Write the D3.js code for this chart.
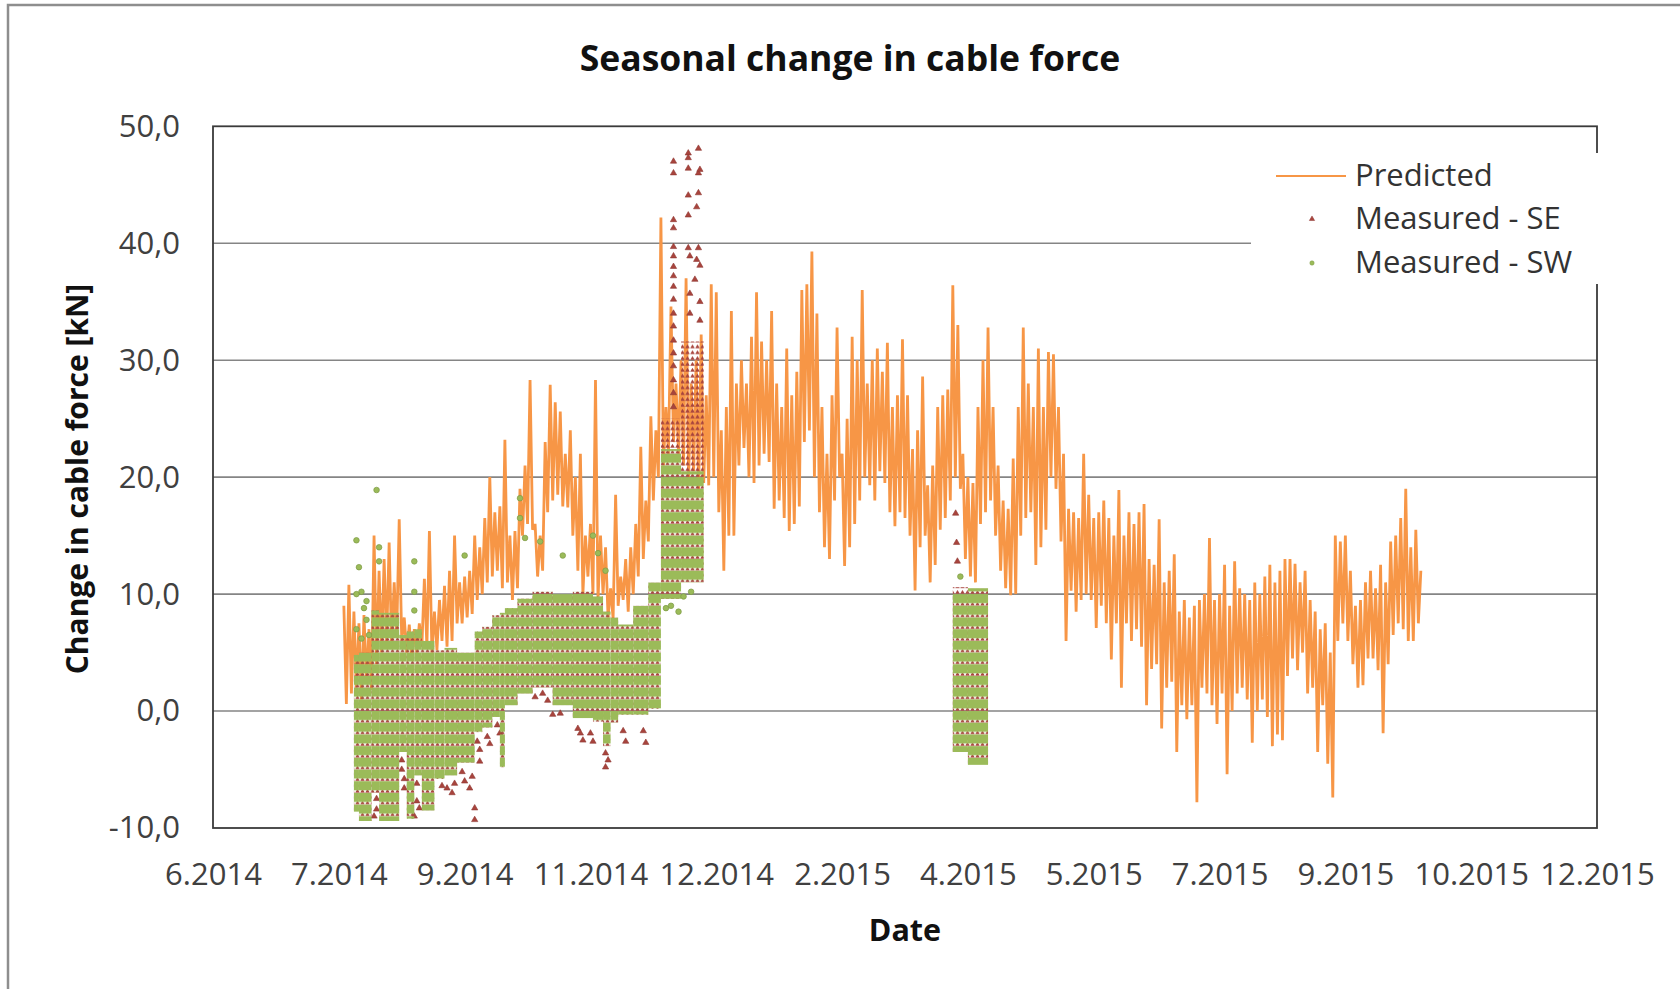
<!DOCTYPE html>
<html>
<head>
<meta charset="utf-8">
<script src="https://cdn.jsdelivr.net/npm/d3@7"></script>
<style>
  body { margin: 0; background: #ffffff; }
  svg { display: block; }
</style>
</head>
<body>
<svg id="chart" width="1680" height="989"></svg>
<script>
// ---- Axis ranges and tick labels ----
const xDomain = ["2014-06-10", "2015-12-12"];
const xTickDates = ["2014-06-10", "2014-07-30", "2014-09-18", "2014-11-07", "2014-12-27", "2015-02-15",
                    "2015-04-06", "2015-05-26", "2015-07-15", "2015-09-03", "2015-10-23", "2015-12-12"];
const yDomain = [-10, 50];
const yTicks = [-10, 0, 10, 20, 30, 40, 50];

// ---- Predicted cable force change [kN], one reading per day from predictedStart ----
const predictedStart = "2014-08-01";
const predictedValues = [
  9.0, 0.6, 10.8, 1.5, 8.5, 2.0, 7.5, 1.0, 8.2, 2.5,
  7.0, 1.8, 15.0, 4.0, 12.0, 5.0, 13.0, 6.0, 14.4, 5.5,
  11.0, 6.5, 16.4, 6.0, 8.0, 5.0, 7.4, 4.5, 7.0, 5.0,
  7.5, 5.5, 11.3, 5.5, 15.4, 5.0, 8.5, 5.2, 9.5, 6.0,
  10.7, 5.5, 12.0, 6.0, 15.0, 7.5, 11.0, 7.5, 11.5, 8.0,
  12.0, 8.3, 15.0, 9.5, 14.0, 10.0, 16.5, 11.0, 20.0, 11.5,
  17.0, 12.0, 17.5, 10.5, 23.2, 11.0, 15.0, 9.5, 15.4, 10.5,
  19.0, 15.0, 21.0, 16.0, 28.3, 15.5, 16.0, 11.5, 15.0, 12.0,
  23.0, 17.0, 27.9, 18.0, 26.4, 18.5, 25.6, 17.5, 22.0, 17.4,
  24.0, 15.0, 20.0, 12.0, 22.0, 10.0, 15.0, 11.5, 16.0, 10.0,
  28.3, 9.5, 15.0, 10.0, 14.0, 8.0, 10.5, 7.9, 18.5, 9.0,
  11.5, 9.5, 13.0, 8.5, 14.0, 10.0, 16.0, 11.5, 22.6, 13.0,
  18.0, 14.5, 25.2, 18.0, 24.0, 20.0, 42.2, 21.0, 26.0, 22.0,
  34.6, 23.0, 28.0, 22.0, 30.0, 21.0, 37.0, 20.0, 28.0, 20.5,
  30.0, 19.0, 32.2, 19.5, 27.0, 19.3, 36.5, 20.0, 35.8, 17.0,
  24.0, 12.0, 26.0, 15.0, 34.2, 15.0, 28.0, 21.0, 30.0, 22.5,
  28.0, 20.0, 32.0, 19.5, 35.8, 21.0, 31.6, 22.0, 30.0, 21.3,
  34.2, 17.3, 28.0, 18.0, 26.0, 16.5, 31.0, 15.4, 27.0, 16.0,
  29.0, 17.5, 36.0, 23.0, 36.5, 24.0, 39.3, 20.0, 34.0, 17.0,
  26.0, 14.0, 22.0, 13.0, 27.0, 18.0, 32.8, 20.0, 22.0, 12.4,
  25.0, 14.0, 32.0, 16.0, 30.0, 18.0, 36.0, 20.0, 28.0, 19.3,
  30.0, 18.0, 31.0, 20.5, 29.0, 19.5, 31.5, 17.0, 26.0, 15.8,
  27.0, 17.0, 31.8, 16.5, 27.0, 15.0, 22.4, 10.3, 24.0, 14.0,
  28.6, 15.0, 19.3, 11.0, 21.0, 12.5, 26.0, 15.5, 27.0, 16.5,
  27.5, 18.0, 36.4, 20.0, 33.0, 19.0, 22.0, 13.0, 20.0, 11.5,
  19.5, 11.0, 26.0, 16.0, 30.0, 17.0, 32.8, 18.0, 26.0, 15.0,
  21.0, 12.0, 18.0, 10.5, 17.3, 9.9, 21.6, 10.0, 26.0, 15.0,
  32.8, 16.5, 28.0, 17.0, 26.0, 12.5, 31.0, 14.0, 26.0, 15.5,
  30.7, 20.0, 30.5, 19.0, 26.0, 14.5, 22.0, 6.0, 17.3, 10.3,
  17.0, 8.5, 16.5, 9.5, 22.0, 10.0, 18.5, 9.5, 16.5, 7.1,
  17.0, 9.0, 18.0, 7.5, 16.5, 4.4, 15.0, 7.5, 18.9, 2.0,
  15.0, 7.5, 17.0, 6.0, 16.0, 7.0, 17.0, 5.5, 17.7, 0.5,
  13.0, 3.6, 12.5, 4.0, 16.4, -1.5, 11.0, 2.0, 12.0, 2.5,
  13.4, -3.5, 8.5, 0.5, 9.5, -0.7, 8.0, 0.5, 9.0, -7.8,
  9.5, 2.0, 10.0, 1.5, 14.8, 0.5, 9.5, -1.1, 10.0, 1.5,
  12.5, -5.4, 9.0, 0.0, 12.8, 1.5, 10.5, 2.0, 10.0, 1.0,
  9.5, -2.7, 11.0, 0.0, 10.0, 1.0, 11.5, -0.5, 12.5, -3.0,
  11.0, -2.0, 12.0, -2.5, 13.0, 3.0, 13.0, 4.5, 12.6, 3.5,
  11.0, 5.0, 12.0, 1.5, 9.5, 2.0, 8.5, -3.5, 7.0, 0.5,
  7.5, -4.5, 5.0, -7.4, 15.0, 6.0, 14.5, 7.5, 15.0, 6.0,
  12.0, 4.0, 9.0, 2.0, 9.5, 2.2, 11.0, 4.5, 12.0, 4.5,
  10.5, 3.5, 12.5, -1.9, 11.0, 4.0, 14.5, 6.5, 15.0, 7.5,
  16.5, 7.0, 19.0, 6.0, 14.0, 6.0, 15.5, 7.5, 12.0
];

// ---- Measured SE: ranges of readings [from, to, low, high] and isolated readings [date, value] ----
const seRanges = [
  ["2014-08-05", "2014-08-07", -8.6, 4.8], ["2014-08-07", "2014-08-12", -9.4, 5.0],
  ["2014-08-12", "2014-08-15", -7.0, 8.6], ["2014-08-15", "2014-08-23", -9.4, 8.4],
  ["2014-08-23", "2014-08-26", -3.5, 6.5], ["2014-08-26", "2014-08-29", -9.2, 6.8],
  ["2014-08-29", "2014-09-01", -5.5, 7.0], ["2014-09-01", "2014-09-06", -8.5, 6.0],
  ["2014-09-06", "2014-09-10", -5.8, 5.2], ["2014-09-10", "2014-09-15", -5.5, 5.4],
  ["2014-09-15", "2014-09-22", -4.4, 5.0], ["2014-09-22", "2014-09-25", -1.8, 6.8],
  ["2014-09-25", "2014-09-29", -1.4, 7.2], ["2014-09-29", "2014-10-02", -0.5, 8.2],
  ["2014-10-02", "2014-10-04", -4.8, 8.4], ["2014-10-04", "2014-10-09", 0.5, 8.8],
  ["2014-10-09", "2014-10-15", 1.5, 9.6], ["2014-10-15", "2014-10-23", 2.0, 10.2],
  ["2014-10-23", "2014-10-31", 0.5, 10.0], ["2014-10-31", "2014-11-08", -0.6, 10.2],
  ["2014-11-08", "2014-11-12", -0.9, 9.8], ["2014-11-12", "2014-11-15", -3.0, 8.5],
  ["2014-11-15", "2014-11-18", -1.0, 8.0], ["2014-11-18", "2014-11-24", -0.3, 7.4],
  ["2014-11-24", "2014-11-30", -0.3, 9.0], ["2014-11-30", "2014-12-05", 0.2, 11.0],
  ["2014-12-05", "2014-12-13", 9.6, 25.0], ["2014-12-13", "2014-12-22", 11.0, 31.6],
  ["2015-03-31", "2015-04-06", -3.5, 10.6], ["2015-04-06", "2015-04-14", -4.6, 10.5]
];
const sePoints = [
  ["2014-08-14", -7.5], ["2014-08-14", -8.4], ["2014-08-13", -9.0],
  ["2014-08-24", -4.2], ["2014-08-24", -5.0], ["2014-08-25", -5.8], ["2014-08-25", -6.6],
  ["2014-08-30", -6.2], ["2014-08-30", -7.7], ["2014-08-31", -8.3], ["2014-08-29", -9.0],
  ["2014-09-09", -6.4], ["2014-09-11", -6.6], ["2014-09-13", -7.0], ["2014-09-14", -6.2],
  ["2014-09-17", -5.2], ["2014-09-18", -6.0], ["2014-09-20", -6.6], ["2014-09-21", -5.6],
  ["2014-09-22", -8.3], ["2014-09-22", -9.3], ["2014-09-23", -2.6], ["2014-09-24", -3.3],
  ["2014-09-24", -4.3], ["2014-09-27", -2.2], ["2014-09-28", -2.8], ["2014-10-01", -1.2],
  ["2014-10-02", -1.9], ["2014-10-16", 1.2], ["2014-10-19", 1.5], ["2014-10-21", 0.9],
  ["2014-10-23", -0.3], ["2014-10-26", -0.2], ["2014-11-02", -1.5], ["2014-11-03", -1.9],
  ["2014-11-04", -2.5], ["2014-11-07", -1.9], ["2014-11-08", -2.6], ["2014-11-13", -3.6],
  ["2014-11-13", -4.8], ["2014-11-14", -4.2], ["2014-11-20", -1.7], ["2014-11-21", -2.6],
  ["2014-11-28", -1.7], ["2014-11-29", -2.7],
  ["2014-12-10", 47.0], ["2014-12-10", 46.0], ["2014-12-10", 42.0], ["2014-12-10", 41.3],
  ["2014-12-10", 39.7], ["2014-12-10", 38.9], ["2014-12-10", 38.0], ["2014-12-10", 37.2],
  ["2014-12-10", 36.3], ["2014-12-10", 35.2], ["2014-12-10", 34.0], ["2014-12-10", 32.9],
  ["2014-12-10", 31.7], ["2014-12-10", 30.6], ["2014-12-10", 29.5], ["2014-12-10", 28.3],
  ["2014-12-10", 27.2], ["2014-12-10", 26.0],
  ["2014-12-15 21:00", 47.7], ["2014-12-15 21:00", 47.3], ["2014-12-15 21:00", 46.4],
  ["2014-12-15 21:00", 44.1], ["2014-12-15 21:00", 42.4], ["2014-12-15 21:00", 39.6],
  ["2014-12-16 12:00", 38.9], ["2014-12-16 12:00", 35.7], ["2014-12-16 12:00", 34.0],
  ["2014-12-18 12:00", 36.9], ["2014-12-19 05:00", 43.1], ["2014-12-19 05:00", 38.6],
  ["2014-12-19 22:00", 48.1], ["2014-12-19 22:00", 46.0], ["2014-12-19 22:00", 44.3],
  ["2014-12-19 22:00", 39.6], ["2014-12-20 12:00", 46.3], ["2014-12-20 12:00", 38.1],
  ["2014-12-20 12:00", 35.0], ["2014-12-20 12:00", 33.4],
  ["2015-04-01 03:00", 16.9], ["2015-04-01 12:00", 14.4], ["2015-04-01 20:00", 12.8]
];

// ---- Measured SW: ranges of readings [from, to, low, high] and isolated readings [date, value] ----
const swRanges = [
  ["2014-08-05", "2014-08-07", -8.6, 4.8], ["2014-08-07", "2014-08-12", -9.4, 5.0],
  ["2014-08-12", "2014-08-15", -7.0, 8.6], ["2014-08-15", "2014-08-23", -9.4, 8.4],
  ["2014-08-23", "2014-08-26", -3.5, 6.5], ["2014-08-26", "2014-08-29", -9.2, 6.8],
  ["2014-08-29", "2014-09-01", -5.5, 7.0], ["2014-09-01", "2014-09-06", -8.5, 6.0],
  ["2014-09-06", "2014-09-10", -5.8, 5.2], ["2014-09-10", "2014-09-15", -5.5, 5.4],
  ["2014-09-15", "2014-09-22", -4.4, 5.0], ["2014-09-22", "2014-09-25", -1.8, 6.8],
  ["2014-09-25", "2014-09-29", -1.4, 7.2], ["2014-09-29", "2014-10-02", -0.5, 8.2],
  ["2014-10-02", "2014-10-04", -4.8, 8.4], ["2014-10-04", "2014-10-09", 0.5, 8.8],
  ["2014-10-09", "2014-10-15", 1.5, 9.6], ["2014-10-15", "2014-10-23", 2.0, 10.2],
  ["2014-10-23", "2014-10-31", 0.5, 10.0], ["2014-10-31", "2014-11-08", -0.6, 10.2],
  ["2014-11-08", "2014-11-12", -0.9, 9.8], ["2014-11-12", "2014-11-15", -3.0, 8.5],
  ["2014-11-15", "2014-11-18", -1.0, 8.0], ["2014-11-18", "2014-11-24", -0.3, 7.4],
  ["2014-11-24", "2014-11-30", -0.3, 9.0], ["2014-11-30", "2014-12-05", 0.2, 11.0],
  ["2014-12-05", "2014-12-13", 9.6, 22.4], ["2014-12-13", "2014-12-22", 11.0, 20.5],
  ["2015-03-31", "2015-04-06", -3.5, 10.0], ["2015-04-06", "2015-04-14", -4.6, 10.5]
];
const swPoints = [
  ["2014-08-06", 14.6], ["2014-08-07", 12.3], ["2014-08-08", 10.2], ["2014-08-09", 8.8],
  ["2014-08-06", 10.0], ["2014-08-10", 9.4], ["2014-08-06", 7.0], ["2014-08-08", 6.2],
  ["2014-08-10", 7.8], ["2014-08-11", 6.5], ["2014-08-14", 18.9], ["2014-08-15", 14.0],
  ["2014-08-15", 12.8], ["2014-08-29", 12.8], ["2014-08-29", 10.2], ["2014-08-29", 8.6],
  ["2014-09-18", 13.3], ["2014-10-10", 18.2], ["2014-10-10", 16.5], ["2014-10-12", 14.8],
  ["2014-10-18", 14.5], ["2014-10-27", 13.3], ["2014-11-08", 15.0], ["2014-11-10", 13.5],
  ["2014-11-13", 12.0], ["2014-12-07", 8.8], ["2014-12-09", 9.0], ["2014-12-12", 8.5],
  ["2014-12-14", 9.8], ["2014-12-17", 10.2], ["2015-04-03", 11.5]
];

// ---- Text ----
const chartTitle = "Seasonal change in cable force";
const xTitle = "Date";
const yTitle = "Change in cable force [kN]";
const seriesNames = ["Predicted", "Measured - SE", "Measured - SW"];

// ---- Setup ----
const colors = { predicted: "#f79646", se: "#a8443d", seEdge: "#8e3733", sw: "#9bbb59", swEdge: "#7d9a45" };
const plot = { left: 213, right: 1597, top: 126.3, bottom: 828 };

const parseDay = d3.timeParse("%Y-%m-%d");
const parseHour = d3.timeParse("%Y-%m-%d %H:%M");
const parseDate = s => (s.length > 10 ? parseHour(s) : parseDay(s));

const x = d3.scaleTime().domain(xDomain.map(parseDate)).range([plot.left, plot.right]);
const y = d3.scaleLinear().domain(yDomain).range([plot.bottom, plot.top]);

const commaLocale = d3.formatLocale({ decimal: ",", thousands: ".", grouping: [3], currency: ["", ""], minus: "-" });
const fmtY = commaLocale.format(".1f");
const fmtX = d3.timeFormat("%-m.%Y");

const svg = d3.select("#chart");
const font = "'Open Sans', 'Noto Sans', sans-serif";

// Outer chart frame
svg.append("rect")
  .attr("x", 8).attr("y", 5).attr("width", 1720).attr("height", 1040)
  .attr("fill", "#ffffff").attr("stroke", "#8e8e8e").attr("stroke-width", 2.5);

// Fill patterns for the dense rows of measured readings
const rowH = y(0) - y(1);
const defs = svg.append("defs");
const swPat = defs.append("pattern").attr("id", "swRows")
  .attr("patternUnits", "userSpaceOnUse").attr("x", 0).attr("y", y(0))
  .attr("width", 4).attr("height", rowH);
swPat.append("rect").attr("width", 4).attr("height", rowH - 2.6).attr("fill", colors.sw);

const sePat = defs.append("pattern").attr("id", "seRows")
  .attr("patternUnits", "userSpaceOnUse").attr("x", 0).attr("y", y(0))
  .attr("width", 5).attr("height", rowH);
[rowH, rowH / 2].forEach(b => {
  sePat.append("path")
    .attr("d", `M0.2,${b - 0.2}L2.5,${b - 4.2}L4.8,${b - 0.2}Z`)
    .attr("fill", colors.se);
});

// Gridlines
svg.append("g").selectAll("line")
  .data(yTicks.filter(v => v !== yDomain[0] && v !== yDomain[1]))
  .join("line")
  .attr("x1", plot.left).attr("x2", plot.right)
  .attr("y1", d => y(d)).attr("y2", d => y(d))
  .attr("stroke", "#858585").attr("stroke-width", 1.6);

// Predicted line
const predStart = parseDate(predictedStart);
const predicted = predictedValues.map((v, i) => [d3.timeDay.offset(predStart, i), v]);
svg.append("path")
  .datum(predicted)
  .attr("fill", "none")
  .attr("stroke", colors.predicted)
  .attr("stroke-width", 2.8)
  .attr("stroke-linejoin", "bevel")
  .attr("d", d3.line().x(d => x(d[0])).y(d => y(d[1])));

// Measured SE
const seG = svg.append("g");
seG.selectAll("rect").data(seRanges).join("rect")
  .attr("x", d => x(parseDate(d[0])))
  .attr("width", d => x(parseDate(d[1])) - x(parseDate(d[0])))
  .attr("y", d => y(d[3]))
  .attr("height", d => y(d[2]) - y(d[3]))
  .attr("fill", "url(#seRows)");
const tri = d3.symbol(d3.symbolTriangle, 17)();
seG.selectAll("path.pt").data(sePoints).join("path")
  .attr("class", "pt")
  .attr("d", tri)
  .attr("transform", d => `translate(${x(parseDate(d[0]))},${y(d[1])})`)
  .attr("fill", colors.se).attr("stroke", colors.seEdge).attr("stroke-width", 0.6);

// Measured SW
const swG = svg.append("g");
swG.selectAll("rect").data(swRanges).join("rect")
  .attr("x", d => x(parseDate(d[0])))
  .attr("width", d => x(parseDate(d[1])) - x(parseDate(d[0])))
  .attr("y", d => y(d[3]))
  .attr("height", d => y(d[2]) - y(d[3]))
  .attr("fill", "url(#swRows)");
swG.selectAll("circle").data(swPoints).join("circle")
  .attr("cx", d => x(parseDate(d[0])))
  .attr("cy", d => y(d[1]))
  .attr("r", 2.8)
  .attr("fill", colors.sw).attr("stroke", colors.swEdge).attr("stroke-width", 0.7);

// Plot area border
svg.append("rect")
  .attr("x", plot.left).attr("y", plot.top)
  .attr("width", plot.right - plot.left).attr("height", plot.bottom - plot.top)
  .attr("fill", "none").attr("stroke", "#3a3a3a").attr("stroke-width", 1.8);

// Axes
const yAxis = svg.append("g")
  .attr("transform", `translate(${plot.left},0)`)
  .call(d3.axisLeft(y).tickValues(yTicks).tickFormat(fmtY).tickSize(0).tickPadding(33));
const xAxis = svg.append("g")
  .attr("transform", `translate(0,${plot.bottom})`)
  .call(d3.axisBottom(x).tickValues(xTickDates.map(parseDate)).tickFormat(fmtX).tickSize(0).tickPadding(35));
[yAxis, xAxis].forEach(g => {
  g.select(".domain").remove();
  g.selectAll("text")
    .attr("font-family", font).attr("font-size", 31).attr("fill", "#404040");
});

// Titles
svg.append("text")
  .attr("x", 850).attr("y", 71)
  .attr("text-anchor", "middle")
  .attr("font-family", font).attr("font-weight", 700).attr("font-size", 35.5)
  .attr("fill", "#111111")
  .text(chartTitle);
svg.append("text")
  .attr("x", (plot.left + plot.right) / 2).attr("y", 941)
  .attr("text-anchor", "middle")
  .attr("font-family", font).attr("font-weight", 700).attr("font-size", 30.5)
  .attr("fill", "#111111")
  .text(xTitle);
svg.append("text")
  .attr("transform", "translate(88,479) rotate(-90)")
  .attr("text-anchor", "middle")
  .attr("font-family", font).attr("font-weight", 700).attr("font-size", 30)
  .attr("fill", "#111111")
  .text(yTitle);

// Legend
const legend = svg.append("g");
legend.append("rect")
  .attr("x", 1251).attr("y", 153).attr("width", 362).attr("height", 131)
  .attr("fill", "#ffffff");
const rowY = [176, 219, 263];
legend.append("line")
  .attr("x1", 1276).attr("x2", 1346).attr("y1", rowY[0]).attr("y2", rowY[0])
  .attr("stroke", colors.predicted).attr("stroke-width", 1.9);
legend.append("path")
  .attr("d", d3.symbol(d3.symbolTriangle, 12)())
  .attr("transform", `translate(1312,${rowY[1]})`)
  .attr("fill", colors.se).attr("stroke", colors.seEdge).attr("stroke-width", 0.5);
legend.append("circle")
  .attr("cx", 1312).attr("cy", rowY[2]).attr("r", 2.2)
  .attr("fill", colors.sw).attr("stroke", colors.swEdge).attr("stroke-width", 0.5);
legend.selectAll("text").data(seriesNames).join("text")
  .attr("x", 1355)
  .attr("y", (d, i) => rowY[i] + 10)
  .attr("font-family", font).attr("font-size", 31).attr("fill", "#333333")
  .text(d => d);
</script>
</body>
</html>
